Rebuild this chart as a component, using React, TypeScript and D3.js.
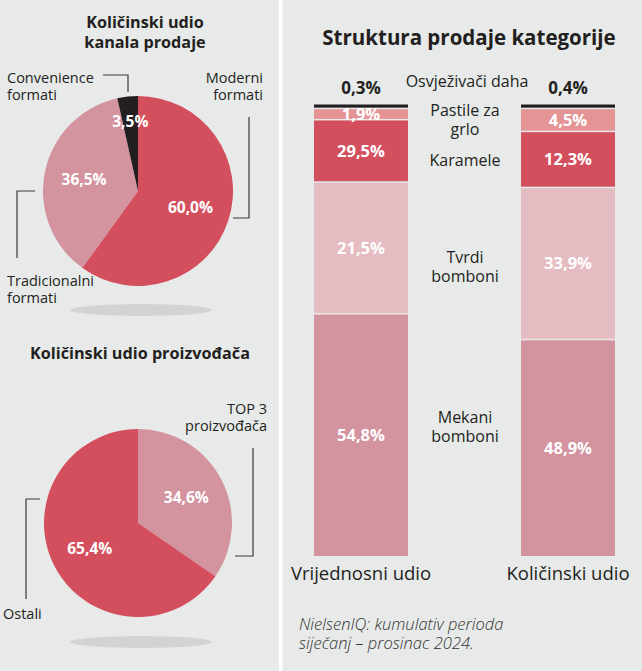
import React from 'react';
import * as d3 from 'd3';

// boje i font
const BG = '#e7eae9';
const INK = '#231f20';
const RED = '#d44f5e';
const ROSE = '#d3939f';
const BLUSH = '#e5bcc2';
const SALMON = '#e59496';
const FONT = '"Open Sans", "DejaVu Sans", sans-serif';

// podaci – kanali prodaje
const channelNames = ['Moderni formati', 'Tradicionalni formati', 'Convenience formati'];
const channelShares = [60.0, 36.5, 3.5];
const channelColors = [RED, ROSE, INK];

// podaci – proizvođači
const producerNames = ['TOP 3 proizvođača', 'Ostali'];
const producerShares = [34.6, 65.4];
const producerColors = [ROSE, RED];

// podaci – struktura kategorije (od vrha stupca prema dnu)
const barNames = ['Vrijednosni udio', 'Količinski udio'];
const segmentNames = ['Osvježivači daha', 'Pastile za grlo', 'Karamele', 'Tvrdi bomboni', 'Mekani bomboni'];
const segmentColors = [INK, SALMON, RED, BLUSH, ROSE];
const valueShareLabels = [0.3, 1.9, 29.5, 21.5, 54.8];
const volumeShareLabels = [0.4, 4.5, 12.3, 33.9, 48.9];
// visine segmenata očitane sa stupaca (lijevi stupac ne prati svoje natpise)
const valueShareDrawn = [0.7, 2.5, 13.8, 29.2, 53.8];
const volumeShareDrawn = [0.7, 5.1, 12.4, 33.7, 48.1];

const fmt = (v: number) => v.toFixed(1).replace('.', ',') + '%';

// višeredni natpis kao jedan <text>
const Lines: React.FC<{ x: number; y: number; lines: string[]; step: number; anchor?: string }> = ({
  x,
  y,
  lines,
  step,
  anchor = 'start',
}) => (
  <text x={x} y={y} textAnchor={anchor}>
    {lines.map((l, i) => (
      <tspan key={i} x={x} dy={i === 0 ? 0 : step}>
        {l}
      </tspan>
    ))}
  </text>
);

interface PieProps {
  cx: number;
  cy: number;
  r: number;
  values: number[];
  colors: string[];
}

const Pie: React.FC<PieProps> = ({ cx, cy, r, values, colors }) => {
  const arcs = d3.pie<number>().sort(null).value((d) => d)(values);
  const arc = d3.arc<d3.PieArcDatum<number>>().innerRadius(0).outerRadius(r);
  return (
    <g transform={`translate(${cx},${cy})`}>
      {arcs.map((a, i) => (
        <path key={i} d={arc(a)!} fill={colors[i]} />
      ))}
      {arcs.map((a, i) => {
        const lr = a.data < 10 ? r * 0.74 : r * 0.58;
        const [x, y] = d3.arc<d3.PieArcDatum<number>>().innerRadius(lr).outerRadius(lr).centroid(a);
        return (
          <text key={i} x={x} y={y} dy="0.35em" textAnchor="middle" fill="#fff" fontWeight={700} fontSize={15.5}>
            {fmt(a.data)}
          </text>
        );
      })}
    </g>
  );
};

const App: React.FC = () => {
  const W = 642;
  const H = 671;

  // stupci
  const x = d3.scaleBand<string>().domain(barNames).range([314, 615]).paddingInner(0.546).paddingOuter(0);
  const y = d3.scaleLinear().domain([0, 100]).range([556, 104.5]);
  const gap = 1.5;
  const keys = [...segmentNames].reverse();
  const rows = barNames.map((b, bi) => {
    const drawn = bi === 0 ? valueShareDrawn : volumeShareDrawn;
    const row: Record<string, number | string> = { bar: b };
    segmentNames.forEach((s, si) => (row[s] = drawn[si]));
    return row;
  });
  const stacked = d3
    .stack<Record<string, number | string>>()
    .keys(keys)
    .value((d, k) => d[k] as number)(rows);

  const lineStyle = { fill: 'none', stroke: '#3a3a3a', strokeWidth: 1.2 };

  return (
    <svg
      width={W}
      height={H}
      style={{ position: 'absolute', left: 0, top: 0, background: BG }}
      fontFamily={FONT}
    >
      <rect x={0} y={0} width={W} height={H} fill={BG} />
      <rect x={279} y={0} width={3.5} height={H} fill="#fff" />

      {/* lijevo gore – kanali prodaje */}
      <g fill={INK} fontWeight={700} fontSize={16.2}>
        <Lines x={145} y={28} lines={['Količinski udio', 'kanala prodaje']} step={20} anchor="middle" />
      </g>
      <ellipse cx={141} cy={310} rx={71} ry={6} fill="#d2d3d5" />
      <Pie cx={138} cy={191} r={95} values={channelShares} colors={channelColors} />
      <g fill={INK} fontSize={14.5}>
        <Lines x={7} y={83} lines={['Convenience', 'formati']} step={17} />
        <Lines x={263} y={83} lines={['Moderni', 'formati']} step={17} anchor="end" />
        <Lines x={7} y={286} lines={['Tradicionalni', 'formati']} step={17} />
      </g>
      <path d="M103,75 H128 V92" {...lineStyle} />
      <path d="M249,117 V218 H233" {...lineStyle} />
      <path d="M35,191 H17 V258" {...lineStyle} />

      {/* lijevo dolje – proizvođači */}
      <text x={140} y={359} textAnchor="middle" fontWeight={700} fontSize={16.2} fill={INK}>
        Količinski udio proizvođača
      </text>
      <ellipse cx={141} cy={642} rx={71} ry={6} fill="#d2d3d5" />
      <Pie cx={138} cy={523} r={94} values={producerShares} colors={producerColors} />
      <g fill={INK} fontSize={14.5}>
        <Lines x={267} y={414} lines={['TOP 3', 'proizvođača']} step={17} anchor="end" />
        <text x={3} y={619}>{producerNames[1]}</text>
      </g>
      <path d="M253,448 V556 H235" {...lineStyle} />
      <path d="M40,499 H26 V599" {...lineStyle} />

      {/* desno – struktura kategorije */}
      <text x={469} y={45} textAnchor="middle" fontWeight={700} fontSize={20.5} fill={INK}>
        Struktura prodaje kategorije
      </text>

      {stacked.map((layer) => {
        const si = segmentNames.indexOf(layer.key);
        return (
          <g key={layer.key}>
            {layer.map((d, bi) => {
              const x0 = x(barNames[bi])!;
              const top = y(d[1]);
              const bottom = y(d[0]);
              const isTop = si === 0;
              const yy = isTop ? top : top + gap;
              const h = bottom - yy;
              const labels = bi === 0 ? valueShareLabels : volumeShareLabels;
              return (
                <g key={bi}>
                  <rect x={x0} y={yy} width={x.bandwidth()} height={Math.max(h, 0)} fill={segmentColors[si]} />
                  {isTop ? (
                    <text
                      x={x0 + x.bandwidth() / 2}
                      y={top - 11}
                      textAnchor="middle"
                      fontWeight={700}
                      fontSize={17}
                      fill={INK}
                    >
                      {fmt(labels[si])}
                    </text>
                  ) : (
                    <text
                      x={x0 + x.bandwidth() / 2}
                      y={(yy + bottom) / 2}
                      dy="0.35em"
                      textAnchor="middle"
                      fontWeight={700}
                      fontSize={16.5}
                      fill="#fff"
                    >
                      {fmt(labels[si])}
                    </text>
                  )}
                </g>
              );
            })}
          </g>
        );
      })}

      <g fill={INK} fontSize={16}>
        <text x={467} y={87} textAnchor="middle">{segmentNames[0]}</text>
        <Lines x={465} y={115.5} lines={['Pastile za', 'grlo']} step={19} anchor="middle" />
        <text x={465} y={166} textAnchor="middle">{segmentNames[2]}</text>
        <Lines x={465} y={262.5} lines={['Tvrdi', 'bomboni']} step={19} anchor="middle" />
        <Lines x={465} y={422.5} lines={['Mekani', 'bomboni']} step={19} anchor="middle" />
      </g>

      {barNames.map((b) => (
        <text key={b} x={x(b)! + x.bandwidth() / 2} y={580} textAnchor="middle" fontSize={18.5} fill={INK}>
          {b}
        </text>
      ))}

      <g fill="#333" fontSize={16.5} fontStyle="italic" fontWeight={300}>
        <Lines x={299} y={630} lines={['NielsenIQ: kumulativ perioda', 'siječanj – prosinac 2024.']} step={19} />
      </g>
    </svg>
  );
};

export default App;
